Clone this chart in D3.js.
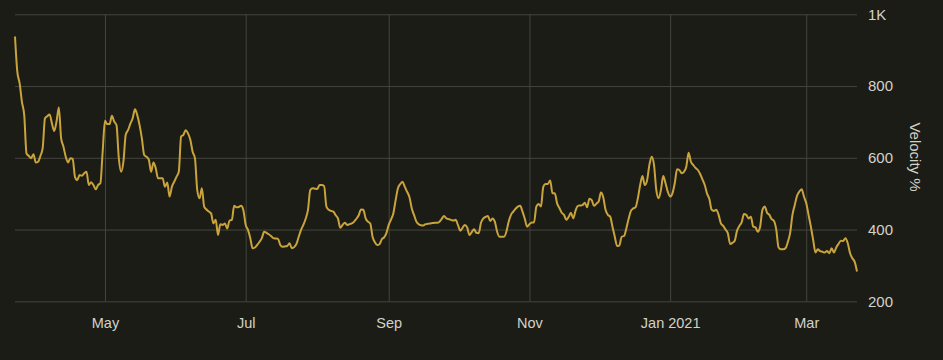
<!DOCTYPE html>
<html>
<head>
<meta charset="utf-8">
<script src="https://cdn.jsdelivr.net/npm/d3@7"></script>
<style>
  html, body { margin: 0; padding: 0; background: #1c1c17; }
  svg { display: block; }
  text { font-family: "Liberation Sans", Arial, sans-serif; }
</style>
</head>
<body>
<svg id="chart" width="943" height="360"></svg>
<script>
// ---- data ----
const startDate = "2020-03-23"; // first daily observation
const velocity = [
938,840,808,756,719,612,605,599,610,587,589,605,627,710,716,721,696,675,701,740,
654,631,603,587,599,597,547,538,552,550,557,561,524,532,524,512,524,529,617,703,
694,694,717,701,691,599,561,589,664,677,695,710,735,719,691,654,608,603,595,561,
587,571,543,543,543,519,531,492,519,533,547,561,659,664,677,668,650,617,599,510,
487,515,464,456,450,445,417,427,385,415,413,417,403,425,427,466,462,463,466,454,
413,399,376,348,350,357,366,376,394,391,387,382,376,375,374,357,352,353,354,362,
348,351,360,380,399,413,430,455,510,515,514,513,524,524,521,464,455,452,450,440,
431,405,413,419,413,415,417,422,430,440,456,455,431,422,417,380,365,357,359,373,
378,390,413,428,445,482,515,527,533,519,505,490,459,440,422,415,412,411,415,416,
417,418,419,419,422,430,438,431,429,427,425,427,413,397,405,413,406,385,393,401,
391,390,419,431,435,438,424,431,422,394,380,380,380,394,422,441,450,458,464,466,
450,430,408,415,420,420,464,471,464,519,527,527,537,501,501,473,460,447,441,427,
435,447,431,453,466,467,468,475,462,486,482,466,472,478,503,490,455,441,436,408,
380,354,356,380,382,403,430,452,459,462,487,524,549,524,537,580,603,580,510,487,
510,549,529,505,492,501,529,568,566,557,561,575,614,589,580,572,566,555,540,524,
500,485,455,452,455,441,417,410,400,390,360,363,369,397,410,420,443,441,431,436,
408,406,394,408,455,464,447,441,429,424,400,350,345,345,348,365,390,440,468,494,
506,512,492,473,441,408,371,336,345,340,338,336,340,334,348,336,350,360,369,368,
376,362,334,320,310,283
];
const xTickDates = ["2020-05-01","2020-07-01","2020-09-01","2020-11-01","2021-01-01","2021-03-01"];
const xTickLabels = ["May","Jul","Sep","Nov","Jan 2021","Mar"];
const yTicks = [200,400,600,800,1000];
const yTickLabels = ["200","400","600","800","1K"];
const yTitle = "Velocity %";

// ---- layout ----
const plotLeft = 15, plotRight = 857, plotTop = 14.3, plotBottom = 301.3;
const parse = d3.utcParse("%Y-%m-%d");
const start = parse(startDate);
const points = velocity.map((v, i) => ({ date: d3.utcDay.offset(start, i), value: v }));

const x = d3.scaleUtc()
  .domain([start, d3.utcDay.offset(start, 365)])
  .range([plotLeft, plotRight]);
const y = d3.scaleLinear().domain([200, 1000]).range([plotBottom, plotTop]);

const svg = d3.select("#chart");
svg.append("rect").attr("width", 943).attr("height", 360).attr("fill", "#1c1c17");

const gridColor = "#45453f";
const textColor = "#d2d2ca";

// x axis with vertical gridlines
const xAxis = d3.axisBottom(x)
  .tickValues(xTickDates.map(parse))
  .tickFormat((d, i) => xTickLabels[i])
  .tickSize(-(plotBottom - plotTop))
  .tickPadding(16);
const gx = svg.append("g").attr("transform", `translate(0,${plotBottom})`).call(xAxis);
gx.select(".domain").remove();
gx.selectAll(".tick line").attr("stroke", gridColor).attr("stroke-width", 1);
gx.selectAll(".tick text").attr("fill", textColor).style("font-size", "14.5px");

// y axis on the right with horizontal gridlines
const yAxis = d3.axisRight(y)
  .tickValues(yTicks)
  .tickFormat((d, i) => yTickLabels[i])
  .tickSize(-(plotRight - plotLeft))
  .tickPadding(11);
const gy = svg.append("g").attr("transform", `translate(${plotRight},0)`).call(yAxis);
gy.select(".domain").remove();
gy.selectAll(".tick line").attr("stroke", gridColor).attr("stroke-width", 1);
gy.selectAll(".tick text").attr("fill", textColor).style("font-size", "15px");

// y title
svg.append("text")
  .attr("transform", `translate(910,157) rotate(90)`)
  .attr("text-anchor", "middle")
  .attr("fill", textColor)
  .style("font-size", "15px")
  .text(yTitle);

// line
const line = d3.line()
  .x(d => x(d.date))
  .y(d => y(d.value))
  .curve(d3.curveMonotoneX);
svg.append("path")
  .datum(points)
  .attr("fill", "none")
  .attr("stroke", "#c9a43c")
  .attr("stroke-width", 2)
  .attr("stroke-linejoin", "round")
  .attr("d", line);
</script>
</body>
</html>
